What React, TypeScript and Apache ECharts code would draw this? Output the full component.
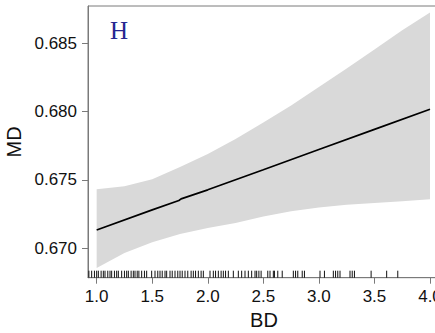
import React, { useEffect, useRef } from "react";
import * as echarts from "echarts";

// Fitted smooth (MD vs BD)
const fitX = [1.0, 1.5, 1.74, 1.76, 2.0, 2.5, 3.0, 3.5, 4.0];
const fitY = [0.67134, 0.67281, 0.67350, 0.67362, 0.67428, 0.67575, 0.67723, 0.67870, 0.68017];

// Confidence band
const bandX = [1.0, 1.25, 1.5, 1.75, 2.0, 2.25, 2.5, 2.75, 3.0, 3.25, 3.5, 3.75, 4.0];
const bandUpper = [0.67432, 0.67455, 0.67505, 0.67595, 0.6769, 0.678, 0.6792, 0.68045, 0.6818, 0.68315, 0.68455, 0.68595, 0.68725];
const bandLower = [0.66856, 0.66965, 0.67045, 0.67105, 0.67148, 0.67185, 0.67232, 0.67272, 0.67298, 0.67318, 0.67332, 0.67344, 0.67359];

// Rug (observed BD values)
const rugX = [
  0.93, 0.955, 0.98, 1.0, 1.015, 1.04, 1.06, 1.075, 1.1, 1.12, 1.135, 1.16, 1.18, 1.195,
  1.225, 1.25, 1.27, 1.285, 1.31, 1.33, 1.345, 1.365, 1.38, 1.405, 1.43, 1.45, 1.495,
  1.525, 1.55, 1.57, 1.59, 1.615, 1.63, 1.66, 1.68, 1.705, 1.73, 1.75, 1.77, 1.795, 1.82,
  1.85, 1.87, 1.89, 1.915, 1.94, 1.96, 2.02, 2.05, 2.07, 2.095, 2.12, 2.14, 2.16, 2.185,
  2.23, 2.275, 2.305, 2.335, 2.365, 2.395, 2.425, 2.44, 2.46, 2.48, 2.54, 2.56, 2.59, 2.6,
  2.63, 2.67, 2.77, 2.79, 2.81, 2.85, 2.87, 3.01, 3.05, 3.13, 3.15, 3.17, 3.19, 3.28, 3.3,
  3.32, 3.47, 3.61, 3.71,
];

const xTicks = [1.0, 1.5, 2.0, 2.5, 3.0, 3.5, 4.0];
const yTicks = [0.67, 0.675, 0.68, 0.685];

const X_MIN = 0.922;
const X_MAX = 4.09;
const Y_MIN = 0.66785;
const Y_MAX = 0.68773;

export default function App() {
  const ref = useRef<HTMLDivElement>(null);
  useEffect(() => {
    if (!ref.current) return;
    const chart = echarts.init(ref.current, null, { renderer: "svg" });
    const axisColor = "#7a7a7a";
    const labelFont = { fontFamily: "Liberation Sans, Arial, sans-serif", fontSize: 17, color: "#111" };
    chart.setOption({
      animation: false,
      backgroundColor: "#fff",
      grid: {
        left: 88,
        top: 6,
        right: -5,
        bottom: 55.3,
        show: true,
        borderColor: axisColor,
        borderWidth: 1,
        containLabel: false,
        outerBoundsMode: "none",
      },
      xAxis: {
        type: "value",
        min: X_MIN,
        max: X_MAX,
        splitLine: { show: false },
        axisLine: { show: true, lineStyle: { color: axisColor, width: 1 } },
        axisTick: { show: true, length: 6, lineStyle: { color: axisColor }, customValues: xTicks },
        axisLabel: {
          ...labelFont,
          margin: 10,
          customValues: xTicks,
          hideOverlap: false,
          formatter: (v: number) => v.toFixed(1),
        },
        name: "BD",
        nameLocation: "middle",
        nameGap: 32,
        nameMoveOverlap: false,
        nameTextStyle: { fontFamily: "Liberation Sans, Arial, sans-serif", fontSize: 20, color: "#111" },
      },
      yAxis: {
        type: "value",
        min: Y_MIN,
        max: Y_MAX,
        splitLine: { show: false },
        axisLine: { show: true, lineStyle: { color: axisColor, width: 1 } },
        axisTick: { show: true, length: 6, lineStyle: { color: axisColor }, customValues: yTicks },
        axisLabel: {
          ...labelFont,
          margin: 11,
          customValues: yTicks,
          formatter: (v: number) => v.toFixed(3),
        },
        name: "MD",
        nameLocation: "middle",
        nameGap: 64,
        nameRotate: 90,
        nameMoveOverlap: false,
        nameTextStyle: { fontFamily: "Liberation Sans, Arial, sans-serif", fontSize: 20, color: "#111" },
      },
      series: [
        {
          type: "custom",
          data: bandX.map((x, i) => [x, bandLower[i], bandUpper[i]]),
          renderItem: (params: any, api: any) => {
            if (params.dataIndex !== 0) return null;
            const upper = bandX.map((x, i) => api.coord([x, bandUpper[i]]));
            const lower = bandX.map((x, i) => api.coord([x, bandLower[i]])).reverse();
            return {
              type: "polygon",
              shape: { points: upper.concat(lower) },
              style: { fill: "#d9d9d9", stroke: "none" },
            };
          },
          silent: true,
          z: 1,
        },
        {
          type: "line",
          data: fitX.map((x, i) => [x, fitY[i]]),
          showSymbol: false,
          lineStyle: { color: "#000", width: 1.7 },
          silent: true,
          z: 3,
        },
        {
          type: "custom",
          data: rugX.map((x) => [x]),
          renderItem: (params: any, api: any) => {
            const p = api.coord([api.value(0), Y_MIN]);
            return {
              type: "line",
              shape: { x1: p[0], y1: p[1], x2: p[0], y2: p[1] - 7 },
              style: { stroke: "#111", lineWidth: 1 },
            };
          },
          silent: true,
          z: 2,
        },
      ],
      graphic: [
        {
          type: "text",
          left: 110,
          top: 18,
          style: {
            text: "H",
            fontFamily: "Liberation Serif, Times New Roman, serif",
            fontSize: 25,
            fill: "#262691",
          },
        },
      ],
    });
    return () => chart.dispose();
  }, []);
  return (
    <div
      ref={ref}
      style={{ position: "fixed", left: 0, top: 0, width: 435, height: 333 }}
    />
  );
}
